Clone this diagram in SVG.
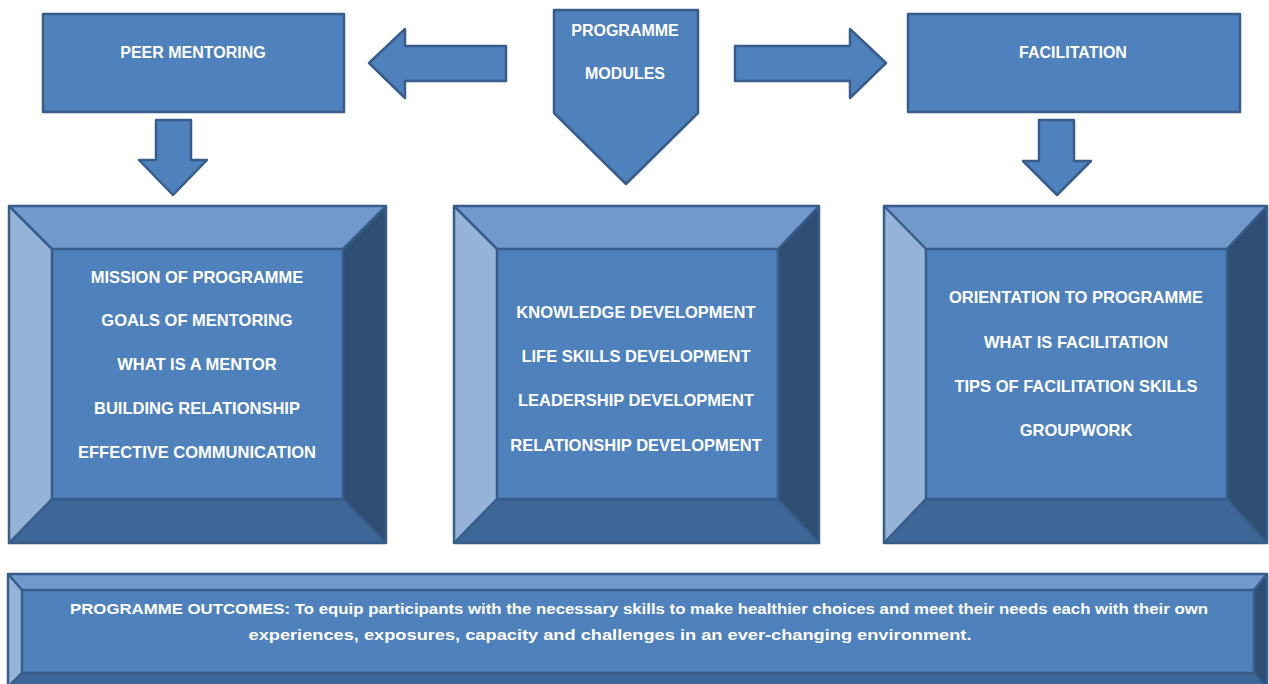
<svg xmlns="http://www.w3.org/2000/svg" width="1269" height="684" viewBox="0 0 1269 684">
<style>
.sh{fill:#4F81BD;stroke:#385D8A;stroke-width:2.5;stroke-linejoin:round}
.c{fill:#4F81BD}
.tp{fill:#7199CC}
.lf{fill:#95B3D7}
.rt{fill:#2F4E73}
.bt{fill:#3E6697}
.ln{fill:none;stroke:#385D8A;stroke-width:2.5;stroke-linejoin:round}
.tx{font-family:"Liberation Sans",Arial,sans-serif;font-weight:bold;font-size:16px;fill:#FFFFFF;text-anchor:middle}
.tl{font-family:"Liberation Sans",Arial,sans-serif;font-weight:bold;font-size:16.5px;fill:#FFFFFF;text-anchor:middle}
.tb{font-family:"Liberation Sans",Arial,sans-serif;font-weight:bold;font-size:15.5px;fill:#FFFFFF;text-anchor:middle}
</style>
<rect width="1269" height="684" fill="#FFFFFF"/>
<g id="connectors">
<polygon class="sh" points="369,63 405,29 405,46 506,46 506,81 405,81 405,98"/>
<polygon class="sh" points="886,63 850,29 850,46 735,46 735,81 850,81 850,98"/>
<polygon class="sh" points="156,120 191,120 191,160 207,160 173,195 139,160 156,160"/>
<polygon class="sh" points="1039,120 1074,120 1074,161 1091,161 1057,195 1023,161 1039,161"/>
</g>
<g id="peer-mentoring">
<rect class="sh" x="43" y="14" width="301" height="98"/>
<text class="tx" x="193" y="58">PEER MENTORING</text>
</g>
<g id="programme-modules">
<polygon class="sh" points="554,10 698,10 698,113 626,184 554,113"/>
<text class="tx" x="625" y="36">PROGRAMME</text>
<text class="tx" x="625" y="79">MODULES</text>
</g>
<g id="facilitation">
<rect class="sh" x="908" y="14" width="332" height="98"/>
<text class="tx" x="1073" y="58">FACILITATION</text>
</g>
<g id="peer-mentoring-topics">
<polygon class="tp" points="9,206 386,206 343,249 52,249"/>
<polygon class="lf" points="9,206 52,249 52,499 9,543"/>
<polygon class="rt" points="386,206 386,543 343,499 343,249"/>
<polygon class="bt" points="9,543 52,499 343,499 386,543"/>
<rect class="c" x="52" y="249" width="291" height="250"/>
<rect class="ln" x="9" y="206" width="377" height="337"/>
<rect class="ln" x="52" y="249" width="291" height="250"/>
<path class="ln" d="M9,206 L52,249 M386,206 L343,249 M9,543 L52,499 M386,543 L343,499"/>
<text class="tl" x="197" y="283">MISSION OF PROGRAMME</text>
<text class="tl" x="197" y="326">GOALS OF MENTORING</text>
<text class="tl" x="197" y="370">WHAT IS A MENTOR</text>
<text class="tl" x="197" y="414">BUILDING RELATIONSHIP</text>
<text class="tl" x="197" y="458">EFFECTIVE COMMUNICATION</text>
</g>
<g id="programme-modules-topics">
<polygon class="tp" points="454,206 819,206 778,249 497,249"/>
<polygon class="lf" points="454,206 497,249 497,499 454,543"/>
<polygon class="rt" points="819,206 819,543 778,499 778,249"/>
<polygon class="bt" points="454,543 497,499 778,499 819,543"/>
<rect class="c" x="497" y="249" width="281" height="250"/>
<rect class="ln" x="454" y="206" width="365" height="337"/>
<rect class="ln" x="497" y="249" width="281" height="250"/>
<path class="ln" d="M454,206 L497,249 M819,206 L778,249 M454,543 L497,499 M819,543 L778,499"/>
<text class="tl" x="636" y="318">KNOWLEDGE DEVELOPMENT</text>
<text class="tl" x="636" y="362">LIFE SKILLS DEVELOPMENT</text>
<text class="tl" x="636" y="406">LEADERSHIP DEVELOPMENT</text>
<text class="tl" x="636" y="451">RELATIONSHIP DEVELOPMENT</text>
</g>
<g id="facilitation-topics">
<polygon class="tp" points="884,206 1267,206 1227,249 926,249"/>
<polygon class="lf" points="884,206 926,249 926,499 884,543"/>
<polygon class="rt" points="1267,206 1267,543 1227,499 1227,249"/>
<polygon class="bt" points="884,543 926,499 1227,499 1267,543"/>
<rect class="c" x="926" y="249" width="301" height="250"/>
<rect class="ln" x="884" y="206" width="383" height="337"/>
<rect class="ln" x="926" y="249" width="301" height="250"/>
<path class="ln" d="M884,206 L926,249 M1267,206 L1227,249 M884,543 L926,499 M1267,543 L1227,499"/>
<text class="tl" x="1076" y="303">ORIENTATION TO PROGRAMME</text>
<text class="tl" x="1076" y="348">WHAT IS FACILITATION</text>
<text class="tl" x="1076" y="392">TIPS OF FACILITATION SKILLS</text>
<text class="tl" x="1076" y="436">GROUPWORK</text>
</g>
<g id="programme-outcomes">
<polygon class="tp" points="8,574 1267,574 1254,590 22,590"/>
<polygon class="lf" points="8,574 22,590 22,673 8,687"/>
<polygon class="rt" points="1267,574 1267,687 1254,673 1254,590"/>
<polygon class="bt" points="8,687 22,673 1254,673 1267,687"/>
<rect class="c" x="22" y="590" width="1232" height="83"/>
<rect class="ln" x="8" y="574" width="1259" height="113"/>
<rect class="ln" x="22" y="590" width="1232" height="83"/>
<path class="ln" d="M8,574 L22,590 M1267,574 L1254,590 M8,687 L22,673 M1267,687 L1254,673"/>
<text class="tb" x="639" y="614" textLength="1138" lengthAdjust="spacingAndGlyphs">PROGRAMME OUTCOMES: To equip participants with the necessary skills to make healthier choices and meet their needs each with their own</text>
<text class="tb" x="610" y="640" textLength="723" lengthAdjust="spacingAndGlyphs">experiences, exposures, capacity and challenges in an ever-changing environment.</text>
</g>
</svg>
